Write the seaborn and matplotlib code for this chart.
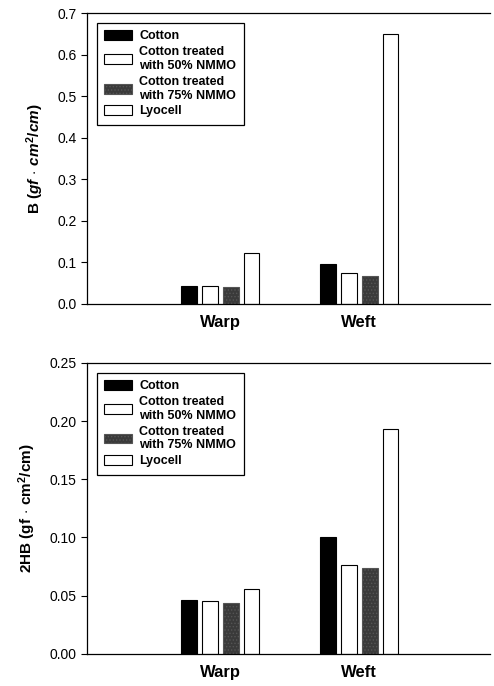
import pandas as pd
import matplotlib
matplotlib.use("Agg")
import matplotlib.pyplot as plt
import seaborn as sns

sns.set_style("ticks")
plt.rcParams['font.family'] = ['Liberation Sans', 'DejaVu Sans']
plt.rcParams['mathtext.fontset'] = 'custom'
plt.rcParams['mathtext.rm'] = 'Liberation Sans:bold'
plt.rcParams['mathtext.bf'] = 'Liberation Sans:bold'
plt.rcParams['mathtext.it'] = 'Liberation Sans:bold:italic'
plt.rcParams['hatch.linewidth'] = 0.6
for k in ['text.color', 'axes.labelcolor', 'xtick.color', 'ytick.color']:
    plt.rcParams[k] = 'black'

directions = ['Warp', 'Weft']
samples = ['Cotton', 'Cotton treated\nwith 50% NMMO',
           'Cotton treated\nwith 75% NMMO', 'Lyocell']
b_warp = [0.043, 0.042, 0.040, 0.123]
b_weft = [0.096, 0.074, 0.068, 0.650]
hb_warp = [0.046, 0.045, 0.044, 0.056]
hb_weft = [0.100, 0.076, 0.074, 0.193]

faces = ['black', 'white', '#3a3a3a', 'white']
hatches = [None, None, '.....', None]


def long_table(warp, weft):
    rows = []
    for s, v in zip(samples, warp):
        rows.append({'dir': 'Warp', 'sample': s, 'val': v})
    for s, v in zip(samples, weft):
        rows.append({'dir': 'Weft', 'sample': s, 'val': v})
    return pd.DataFrame(rows)


def style_patch(p, i):
    p.set_facecolor(faces[i])
    p.set_edgecolor('black')
    if hatches[i]:
        p.set_hatch(hatches[i])
        if hasattr(p, 'set_hatchcolor'):
            p.set_hatchcolor('#9a9a9a')
        else:
            p.set_edgecolor('#555555')


fig = plt.figure(figsize=(4.94, 6.86), dpi=100)
ax1 = fig.add_axes([0.176, 0.557, 0.816, 0.424])
ax2 = fig.add_axes([0.176, 0.047, 0.816, 0.424])

panels = [
    (ax1, long_table(b_warp, b_weft), 0.7, [0.0, 0.1, 0.2, 0.3, 0.4, 0.5, 0.6, 0.7], '%.1f',
     r'B $\mathit{(gf\,\cdot\,cm^2/cm)}$'),
    (ax2, long_table(hb_warp, hb_weft), 0.25, [0.0, 0.05, 0.10, 0.15, 0.20, 0.25], '%.2f',
     r'2HB $\mathrm{(gf\,\cdot\,cm^2/cm)}$'),
]

for ax, df, ymax, yt, fmt, ylab in panels:
    sns.barplot(data=df, x='dir', y='val', hue='sample', hue_order=samples,
                order=directions, palette=['w'] * 4, width=0.6, gap=0.25,
                edgecolor='black', linewidth=0.8, ax=ax, legend=True)
    for i, cont in enumerate(ax.containers):
        for bar in cont:
            style_patch(bar, i)
    ax.set_xlim(-0.96, 1.94)
    ax.set_ylim(0, ymax)
    ax.set_yticks(yt)
    ax.set_yticklabels([fmt % v for v in yt], fontsize=10)
    ax.set_xlabel('')
    ax.set_ylabel(ylab, fontsize=11, fontweight='bold', labelpad=8)
    ax.tick_params(axis='x', length=0, pad=8)
    ax.tick_params(axis='y', length=4, width=0.8, direction='out')
    for lab in ax.get_xticklabels():
        lab.set_fontsize(12)
        lab.set_fontweight('bold')
    for sp in ['left', 'bottom', 'top']:
        ax.spines[sp].set_linewidth(0.9)
        ax.spines[sp].set_color('black')
    ax.spines['right'].set_visible(False)

    handles, labels = ax.get_legend_handles_labels()
    for i, h in enumerate(handles):
        style_patch(h, i)
    ax.legend(handles, labels, loc='upper left', bbox_to_anchor=(0.018, 0.975),
              frameon=True, fancybox=False, edgecolor='black',
              prop={'weight': 'bold', 'size': 9}, handlelength=2.2,
              handleheight=0.8, handletextpad=0.6, labelspacing=0.3,
              borderpad=0.6, borderaxespad=0.2, framealpha=1)
    ax.get_legend().get_frame().set_linewidth(0.9)

fig.savefig('out.png', dpi=100)
